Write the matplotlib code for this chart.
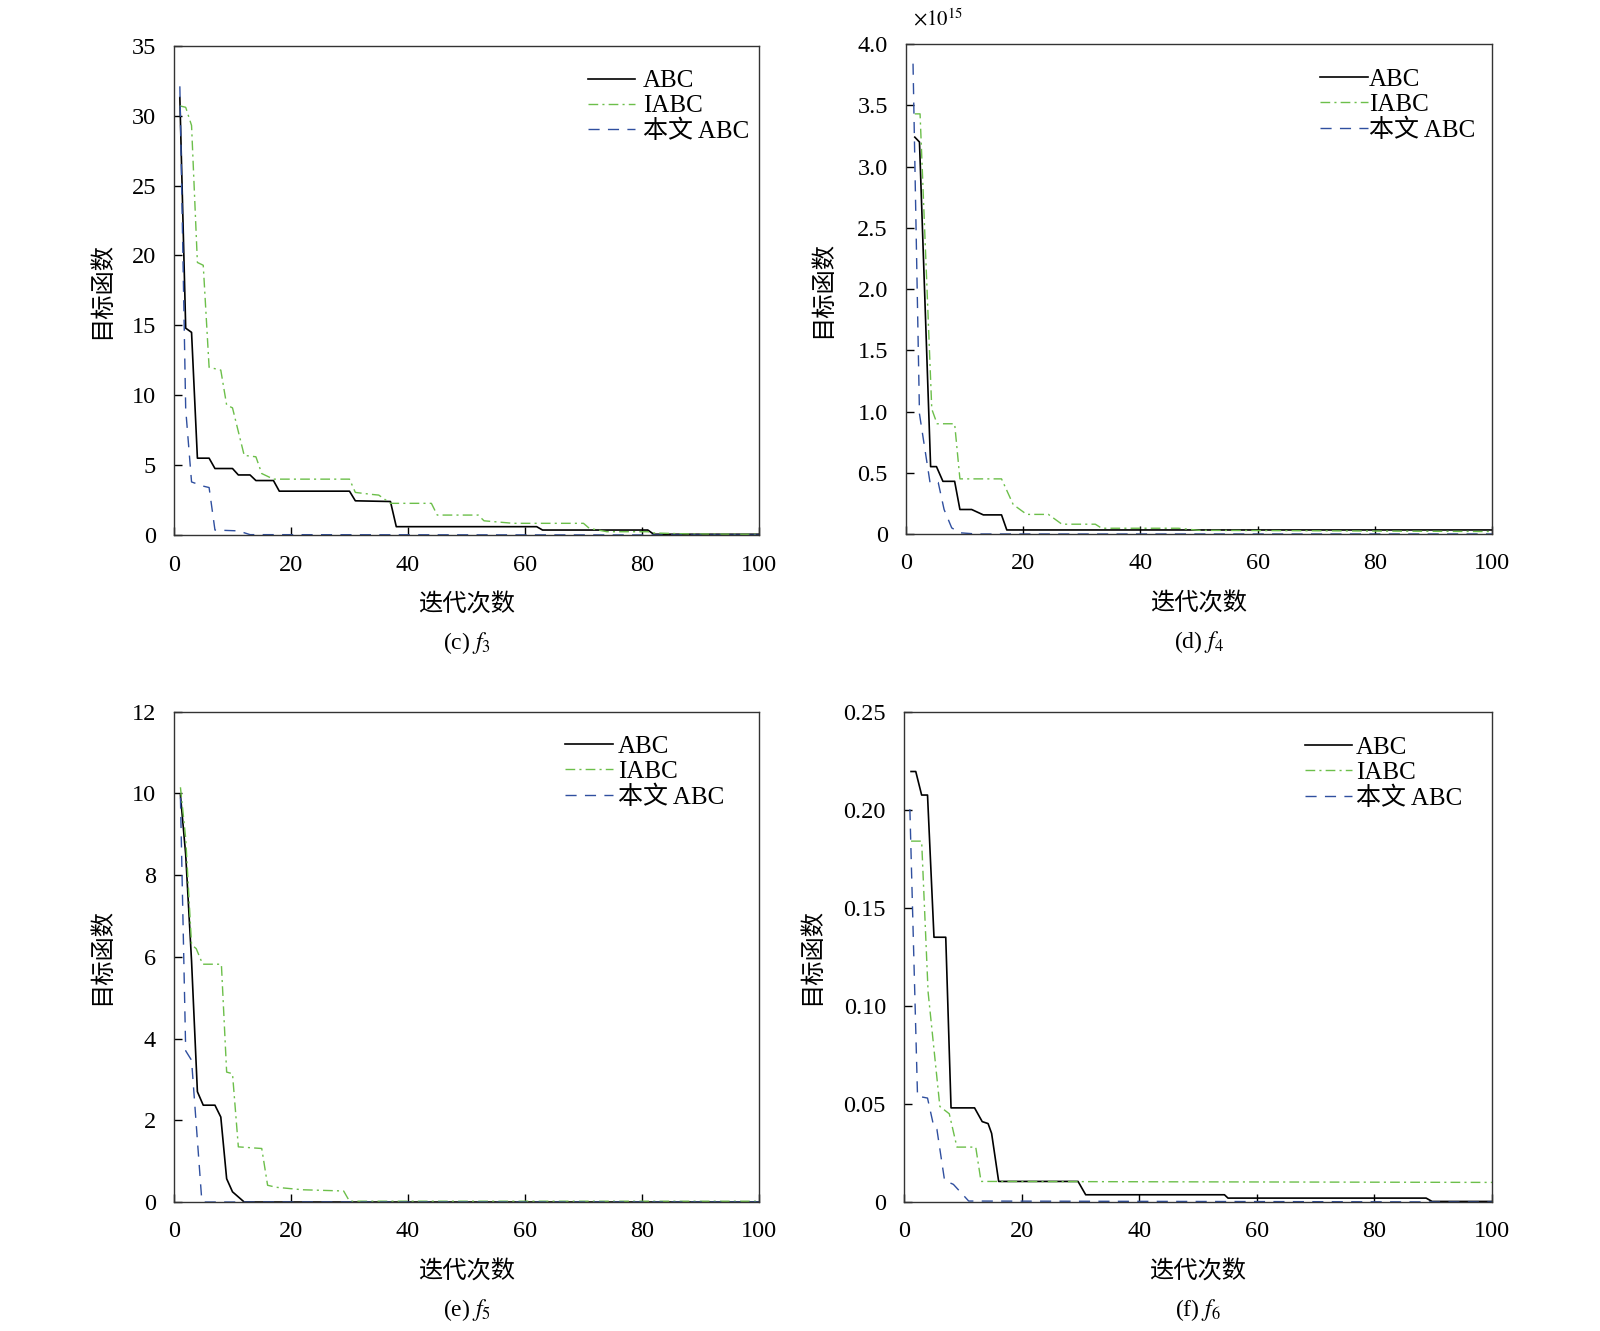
import matplotlib
matplotlib.use("Agg")
import matplotlib.pyplot as plt
from matplotlib.ticker import FuncFormatter, MultipleLocator

plt.rcParams['font.family'] = ['Liberation Serif', 'Noto Sans CJK SC']
plt.rcParams['mathtext.fontset'] = 'stix'
plt.rcParams['axes.unicode_minus'] = False

labels = ['ABC', 'IABC', '本文 ABC']

# (c) f3
c_abc_x = [1, 2, 3, 4, 6, 7, 10, 11, 13, 14, 17, 18, 30, 31, 37, 38, 62, 63, 81, 82, 100]
c_abc_y = [31.3, 14.8, 14.5, 5.5, 5.5, 4.76, 4.76, 4.3, 4.3, 3.9, 3.9, 3.14, 3.14, 2.45,
           2.4, 0.6, 0.6, 0.36, 0.36, 0.06, 0.06]
c_iabc_x = [1, 2, 3, 4, 5, 6, 8, 9, 10, 12, 14, 15, 17, 30, 31, 34, 35, 37, 44, 45, 52,
            53, 58, 70, 71, 74, 81, 82, 88, 100]
c_iabc_y = [30.7, 30.6, 29.3, 19.5, 19.3, 12.0, 11.8, 9.3, 9.1, 5.7, 5.6, 4.4, 4.0, 4.0,
            3.05, 2.9, 2.86, 2.27, 2.27, 1.43, 1.43, 1.02, 0.84, 0.84, 0.48, 0.24, 0.24,
            0.15, 0.08, 0.05]
c_new_x = [1, 2, 3, 5, 6, 7, 11, 13, 100]
c_new_y = [32.1, 9.0, 3.8, 3.5, 3.4, 0.36, 0.3, 0.03, 0.0]

# (d) f4, values in units of 1e15
d_abc_x = [1.5, 2.3, 4.2, 5.2, 6.3, 8.3, 9.2, 11.2, 13.2, 16.3, 17.2, 100]
d_abc_y = [3.24, 3.2, 0.55, 0.55, 0.43, 0.43, 0.2, 0.2, 0.156, 0.156, 0.033, 0.033]
d_iabc_x = [1.5, 2.4, 4.4, 5.3, 8.3, 9.2, 16.3, 18.3, 20.6, 24.3, 26.6, 32.3, 33.4, 46.5,
            50, 100]
d_iabc_y = [3.43, 3.43, 1.02, 0.9, 0.9, 0.45, 0.45, 0.24, 0.16, 0.16, 0.08, 0.08, 0.047,
            0.047, 0.03, 0.02]
d_new_x = [1.2, 2.3, 4.1, 5.5, 6.5, 7.8, 9.2, 12, 100]
d_new_y = [3.84, 0.98, 0.42, 0.42, 0.2, 0.05, 0.01, 0.0, 0.0]

# (e) f5
e_abc_x = [1.1, 2, 3, 4, 5, 7, 8, 9, 10, 12, 100]
e_abc_y = [9.96, 8.5, 5.9, 2.7, 2.37, 2.37, 2.08, 0.57, 0.25, 0.0, 0.0]
e_iabc_x = [1.1, 2, 3, 3.8, 4.9, 8.1, 9, 10, 11, 15, 16, 17.5, 22, 29, 30, 100]
e_iabc_y = [10.15, 8.9, 6.3, 6.2, 5.82, 5.82, 3.18, 3.14, 1.35, 1.31, 0.41, 0.36, 0.3,
            0.27, 0.02, 0.02]
e_new_x = [1.1, 2, 3, 4.7, 5, 100]
e_new_y = [9.9, 3.7, 3.47, 0.14, 0.0, 0.0]

# (f) f6
f_abc_x = [1.2, 2, 3, 4, 5.1, 7.1, 8, 12, 13.3, 14.3, 14.9, 16.1, 29.6, 30.9, 54.5, 55.1,
           88.8, 89.8, 100]
f_abc_y = [0.2195, 0.2195, 0.2075, 0.2075, 0.135, 0.135, 0.048, 0.048, 0.041, 0.040,
           0.035, 0.0105, 0.0105, 0.0037, 0.0037, 0.002, 0.002, 0.0003, 0.0003]
f_iabc_x = [1.2, 3, 4.1, 6.1, 7.7, 9, 12.2, 13.1, 100]
f_iabc_y = [0.184, 0.184, 0.107, 0.0487, 0.045, 0.028, 0.028, 0.0105, 0.0100]
f_new_x = [1, 2.3, 4.0, 5.1, 5.6, 6.9, 8.4, 11, 100]
f_new_y = [0.2003, 0.054, 0.053, 0.038, 0.037, 0.011, 0.009, 0.0005, 0.0]

panels = [
    dict(rect=[0.10875, 0.598, 0.3656, 0.3676], ymax=35, ystep=5, dec=0,
         series=[(c_abc_x, c_abc_y), (c_iabc_x, c_iabc_y), (c_new_x, c_new_y)],
         cap='(c) $f_3$', ylab_x=-0.104, leg=(0.983, 0.951), pad=0.3),
    dict(rect=[0.56625, 0.5988, 0.36625, 0.3681], ymax=4.0, ystep=0.5, dec=1,
         series=[(d_abc_x, d_abc_y), (d_iabc_x, d_iabc_y), (d_new_x, d_new_y)],
         cap='(d) $f_4$', ylab_x=-0.122, leg=(0.971, 0.95), pad=0.05),
    dict(rect=[0.10875, 0.0969, 0.3656, 0.3684], ymax=12, ystep=2, dec=0,
         series=[(e_abc_x, e_abc_y), (e_iabc_x, e_iabc_y), (e_new_x, e_new_y)],
         cap='(e) $f_5$', ylab_x=-0.104, leg=(0.940, 0.951), pad=0.2),
    dict(rect=[0.565, 0.0969, 0.3675, 0.3684], ymax=0.25, ystep=0.05, dec=2,
         series=[(f_abc_x, f_abc_y), (f_iabc_x, f_iabc_y), (f_new_x, f_new_y)],
         cap='(f) $f_6$', ylab_x=-0.137, leg=(0.949, 0.95), pad=0.15),
]

styles = [
    dict(color='black', lw=1.2, linestyle='-'),
    dict(color='#6cbf4a', lw=1.0, linestyle=(0, (7, 3, 1.5, 3))),
    dict(color='#2f4f9f', lw=1.0, linestyle=(0, (8, 6))),
]


def make_fmt(dec):
    def fmt(v, pos):
        if abs(v) < 1e-12:
            return '0'
        return f'{v:.{dec}f}'
    return FuncFormatter(fmt)


fig = plt.figure(figsize=(16, 13.31), dpi=100)

for p in panels:
    ax = fig.add_axes(p['rect'])
    for (xs, ys), st, lab in zip(p['series'], styles, labels):
        ax.plot(xs, ys, label=lab, **st)

    ax.set_xlim(0, 100)
    ax.set_ylim(0, p['ymax'])
    ax.xaxis.set_major_locator(MultipleLocator(20))
    ax.yaxis.set_major_locator(MultipleLocator(p['ystep']))
    ax.yaxis.set_major_formatter(make_fmt(p['dec']))
    ax.tick_params(direction='in', length=6, width=1.0, labelsize=17.5,
                   top=False, right=False)
    ax.tick_params(axis='x', pad=14)
    ax.tick_params(axis='y', pad=13)
    for s in ax.spines.values():
        s.set_color('#333333')
        s.set_linewidth(1.0)

    ax.set_xlabel('迭代次数', fontsize=17.5, fontweight='light')
    ax.xaxis.set_label_coords(0.5, -0.12)
    ax.set_ylabel('目标函数', fontsize=17.5, fontweight='light')
    ax.yaxis.set_label_coords(p['ylab_x'], 0.5)
    ax.text(0.5, -0.221, p['cap'], transform=ax.transAxes, ha='center', va='center',
            fontsize=17)

    ax.legend(loc='upper right', bbox_to_anchor=p['leg'], frameon=False, fontsize=18,
              handlelength=1.9, handletextpad=p['pad'], labelspacing=0.1,
              borderaxespad=0, borderpad=0)

    if p['cap'].startswith('(d)'):
        ax.text(0.012, 1.049, r'$\times10^{15}$', transform=ax.transAxes,
                ha='left', va='center', fontsize=15)

fig.savefig('out.png', dpi=100)
